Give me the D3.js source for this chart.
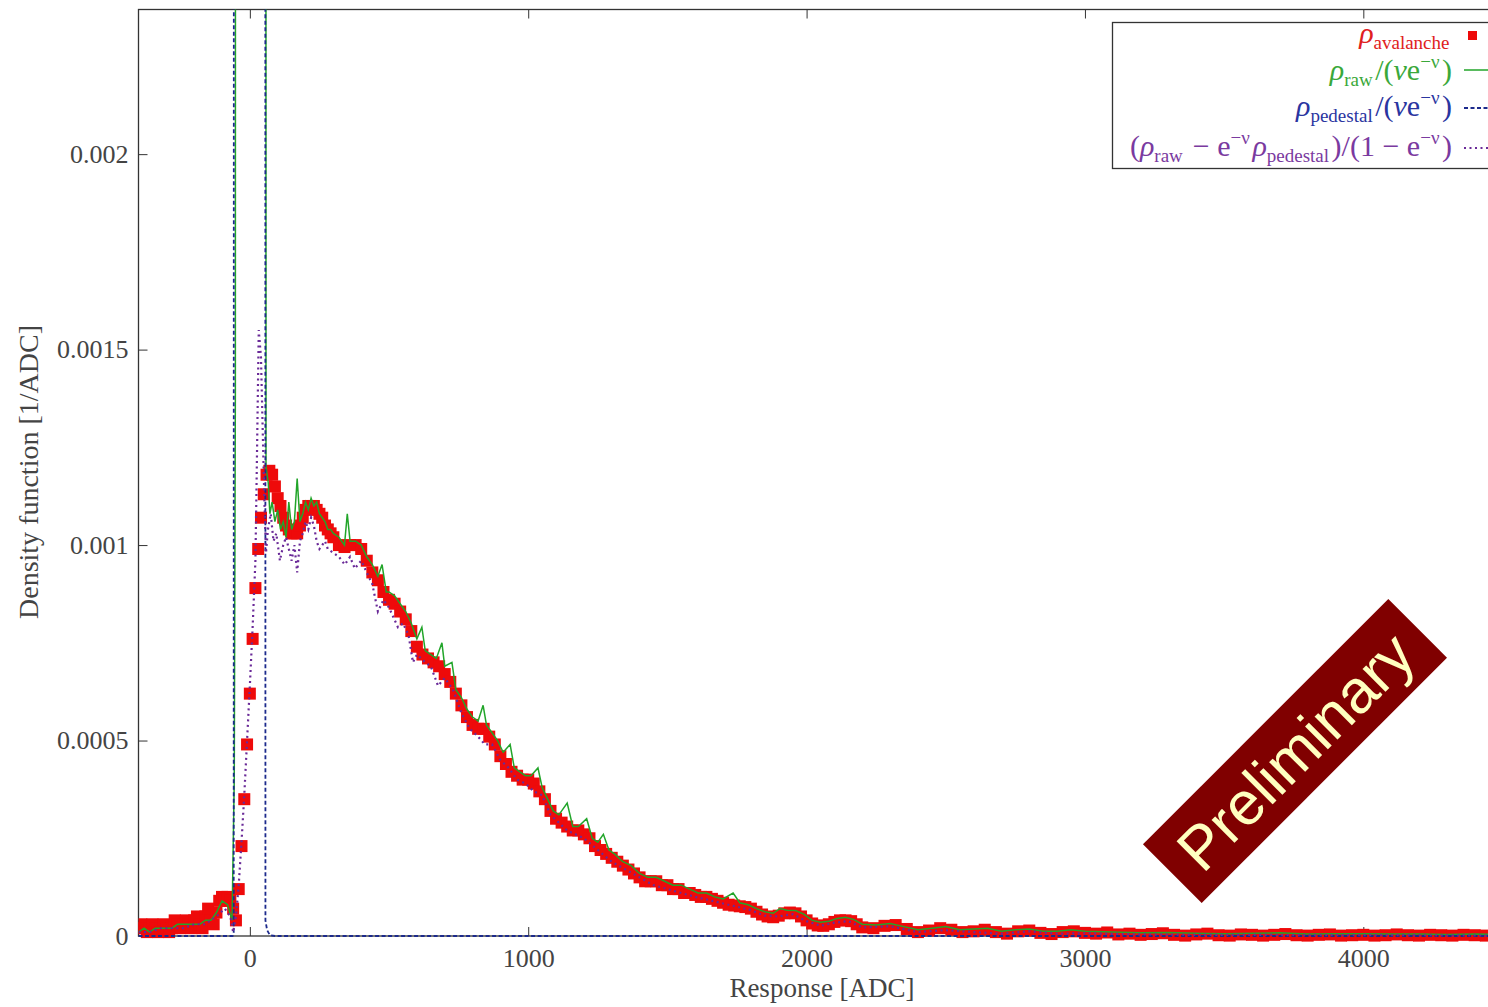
<!DOCTYPE html>
<html>
<head>
<meta charset="utf-8">
<script src="https://d3js.org/d3.v7.min.js"></script>
<style>
  body { margin: 0; background: #fff; }
  svg { display: block; }
  .tick text { font-family: "Liberation Serif", serif; font-size: 26px; fill: #444; }
  .tick line { stroke: #333; }
</style>
</head>
<body>
<div id="chart"></div>
<script>
// avalanche density (red squares), [ADC, 1/ADC]
var avalanche = [
  [-400,0.00002],[-390,0.00003],[-380,0.00002],[-370,0.00001],[-360,0.00002],[-350,0.00003],[-340,0.00002],[-330,0.00001],
  [-320,0.00002],[-310,0.00003],[-300,0.00002],[-290,0.00001],[-280,0.00002],[-270,0.00004],[-260,0.00003],[-250,0.00002],
  [-240,0.00003],[-230,0.00004],[-220,0.00003],[-210,0.00002],[-200,0.00004],[-190,0.00005],[-180,0.00003],[-170,0.00002],
  [-160,0.00005],[-150,0.00007],[-140,0.00004],[-130,0.00003],[-120,0.00006],[-110,0.00009],[-100,0.0001],[-90,0.00009],
  [-80,0.0001],[-70,0.00009],[-60,0.00007],[-50,0.00004],[-40,0.00012],[-30,0.00023],[-20,0.00035],[-10,0.00049],
  [0,0.00062],[10,0.00076],[20,0.00089],[30,0.00099],[40,0.00107],[50,0.00113],[60,0.00118],[70,0.00119],[80,0.00118],
  [90,0.00115],[100,0.00112],[110,0.0011],[120,0.00107],[130,0.00105],[140,0.00104],[150,0.00103],[160,0.00103],
  [170,0.00103],[180,0.00105],[190,0.00107],[200,0.00109],[210,0.0011],[220,0.0011],[230,0.0011],[240,0.00109],
  [250,0.00108],[260,0.00107],[270,0.00105],[280,0.00104],[290,0.00103],[300,0.00102],[320,0.001],[340,0.000995],
  [360,0.001],[380,0.001],[400,0.00099],[420,0.00096],[440,0.00093],[460,0.00091],[480,0.00088],[500,0.00086],
  [520,0.00085],[540,0.00083],[560,0.00081],[580,0.00078],[600,0.00074],[620,0.00072],[640,0.00071],[660,0.0007],
  [680,0.00069],[700,0.00067],[720,0.00065],[740,0.00062],[760,0.00059],[780,0.00056],[800,0.00054],[820,0.00053],
  [840,0.00053],[860,0.00051],[880,0.00049],[900,0.00046],[920,0.00044],[940,0.00042],[960,0.00041],[980,0.0004],
  [1000,0.0004],[1020,0.00039],[1040,0.00037],[1060,0.00035],[1080,0.00032],[1100,0.0003],[1120,0.00029],[1140,0.00028],
  [1160,0.00027],[1180,0.00027],[1200,0.00026],[1220,0.00025],[1240,0.00023],[1260,0.00022],[1280,0.00021],[1300,0.0002],
  [1320,0.00019],[1340,0.00018],[1360,0.00017],[1380,0.00016],[1400,0.00015],[1420,0.00014],[1440,0.00014],[1460,0.00014],
  [1480,0.00013],[1500,0.00013],[1520,0.00012],[1540,0.00012],[1560,0.00011],[1580,0.00011],[1600,0.000105],[1620,0.0001],
  [1640,0.0001],[1660,0.000095],[1680,0.00009],[1700,0.000085],[1720,0.00008],[1740,0.000078],[1760,0.000076],[1780,0.000074],
  [1800,0.00007],[1820,0.000062],[1840,0.000055],[1860,0.00005],[1880,0.000048],[1900,0.000052],[1920,0.000058],[1940,0.00006],
  [1960,0.000058],[1980,0.00005],[2000,0.00004],[2020,0.000032],[2040,0.000027],[2060,0.000026],[2080,0.00003],[2100,0.000036],
  [2120,0.00004],[2140,0.00004],[2160,0.000038],[2180,0.00003],[2200,0.000022],[2240,0.00002],[2280,0.000026],[2320,0.000028],
  [2360,0.000018],[2400,0.00001],[2440,0.000014],[2480,0.00002],[2520,0.000016],[2560,0.00001],[2600,0.000012],[2640,0.000016],
  [2680,0.00001],[2720,0.000006],[2760,0.000012],[2800,0.000014],[2840,0.000008],[2880,0.000005],[2920,0.00001],[2960,0.000012],
  [3000,0.000008],[3040,0.000006],[3080,0.000009],[3120,0.000004],[3160,0.000006],[3200,0.000003],[3240,0.000005],[3280,0.000007],
  [3320,0.000003],[3360,0.000001],[3400,0.000004],[3440,0.000006],[3480,0.000002],[3520,0.000001],[3560,0.000004],[3600,0.000003],
  [3640,0.000001],[3680,0.000003],[3720,0.000005],[3760,0.000002],[3800,0.000001],[3840,0.000003],[3880,0.000004],[3920,0.000001],
  [3960,0.000002],[4000,0.000003],[4040,0.000001],[4080,0.000002],[4120,0.000004],[4160,0.000002],[4200,0.000001],[4240,0.000003],
  [4280,0.000002],[4320,0.000001],[4360,0.000003],[4400,0.000002],[4440,0.000001],[4480,0.000002]
];

// raw / (nu e^-nu), green solid
var rawNorm = [
  [-400,0.00001],[-380,0.00002],[-360,0.00001],[-340,0.00002],[-320,0.00002],[-300,0.00002],[-280,0.00002],[-260,0.00003],
  [-240,0.00003],[-220,0.00003],[-200,0.00003],[-180,0.00003],[-160,0.00004],[-140,0.00004],[-120,0.00006],[-100,0.00009],
  [-80,0.00008],[-64,0.00004],[-56,0.0004],[-52,0.0014],[-48,0.02],[56,0.02],[58,0.0012],[66,0.00116],[72,0.00108],
  [80,0.00111],[90,0.00106],[100,0.00109],[110,0.00104],[120,0.00106],[130,0.00102],[140,0.00111],[150,0.00104],
  [160,0.00106],[170,0.00117],[180,0.00106],[190,0.00108],[200,0.00111],[210,0.00109],[220,0.00112],[230,0.0011],
  [240,0.00111],[250,0.00108],[260,0.00107],[270,0.00106],[280,0.00104],[290,0.00104],[300,0.00103],[320,0.00102],
  [340,0.001],[350,0.00108],[360,0.00101],[380,0.00101],[400,0.001],[420,0.00097],[440,0.00095],[460,0.00092],
  [475,0.00095],[490,0.00088],[500,0.00088],[520,0.00087],[540,0.00085],[560,0.00083],[580,0.0008],[600,0.00076],
  [618,0.00079],[630,0.00073],[650,0.00072],[670,0.00071],[690,0.00075],[700,0.00069],[726,0.0007],[740,0.00063],
  [760,0.00061],[780,0.00058],[800,0.00056],[820,0.00055],[838,0.00059],[850,0.00054],[870,0.00052],[890,0.0005],
  [910,0.00047],[935,0.00049],[950,0.00043],[970,0.00042],[990,0.00041],[1010,0.00041],[1035,0.00043],[1050,0.00038],
  [1070,0.00035],[1090,0.00032],[1110,0.00031],[1140,0.00034],[1160,0.00028],[1180,0.00028],[1210,0.0003],[1230,0.00025],
  [1250,0.00024],[1270,0.00026],[1290,0.00022],[1310,0.00021],[1340,0.00019],[1370,0.00018],[1400,0.00016],[1430,0.00015],
  [1460,0.00015],[1490,0.00014],[1520,0.00013],[1550,0.00013],[1580,0.00012],[1610,0.00011],[1640,0.00011],[1670,0.0001],
  [1700,0.000095],[1736,0.00011],[1760,0.000085],[1790,0.00008],[1820,0.00007],[1850,0.000062],[1880,0.000058],[1904,0.00007],
  [1930,0.000066],[1960,0.000065],[1990,0.000056],[2020,0.00004],[2050,0.000035],[2080,0.000038],[2110,0.000045],[2140,0.000048],
  [2170,0.000042],[2200,0.00003],[2250,0.000028],[2300,0.000032],[2350,0.000024],[2400,0.000016],[2450,0.00002],[2500,0.000024],
  [2550,0.000016],[2600,0.000018],[2650,0.00002],[2700,0.000012],[2750,0.000016],[2800,0.000018],[2850,0.000012],[2900,0.000012],
  [2950,0.000016],[3000,0.000012],[3100,0.00001],[3200,0.000008],[3300,0.000009],[3400,0.000007],[3500,0.000006],[3600,0.000007],
  [3700,0.000008],[3800,0.000005],[3900,0.000006],[4000,0.000006],[4100,0.000005],[4200,0.000005],[4300,0.000004],[4400,0.000005],
  [4500,0.000004]
];

// pedestal / (nu e^-nu), blue dashed
var pedNorm = [
  [-400,0],[-100,0],[-62,0],[-58,0.00001],[-54,0.02],[53,0.02],[56,0.00004],[62,0.000015],[72,0.000002],[90,0],[4500,0]
];

// (raw - e^-nu pedestal) / (1 - e^-nu), purple dotted
var subtracted = [
  [-400,0.00001],[-360,0.00001],[-320,0.00002],[-280,0.00002],[-240,0.00002],[-200,0.00003],[-160,0.00003],[-120,0.00005],
  [-90,0.00007],[-70,0.00005],[-60,0.00001],[-50,0.00005],[-40,0.00013],[-30,0.00024],[-20,0.00036],[-10,0.0005],
  [0,0.00064],[10,0.00079],[20,0.00096],[25,0.0012],[32,0.00155],[40,0.00148],[46,0.0013],[52,0.00112],[58,0.00098],
  [65,0.00104],[75,0.00108],[85,0.00101],[95,0.00103],[108,0.00096],[120,0.001],[130,0.00102],[140,0.00099],[150,0.00096],
  [160,0.001],[170,0.00093],[180,0.00101],[190,0.00103],[200,0.00106],[210,0.00104],[220,0.00107],[230,0.00105],
  [240,0.00101],[250,0.00099],[260,0.001],[270,0.00101],[280,0.00099],[300,0.00098],[320,0.00097],[341,0.00095],
  [360,0.00097],[377,0.00094],[400,0.00096],[420,0.00093],[440,0.0009],[460,0.00083],[480,0.00086],[500,0.00084],
  [532,0.00079],[550,0.0008],[570,0.00077],[586,0.0007],[600,0.00072],[630,0.0007],[650,0.00069],[676,0.00064],
  [700,0.00066],[730,0.00063],[760,0.00057],[790,0.00053],[820,0.00051],[844,0.00049],[870,0.00049],[900,0.00045],
  [930,0.00043],[960,0.0004],[990,0.00039],[1020,0.00037],[1050,0.00036],[1080,0.00031],[1110,0.00029],[1140,0.00027],
  [1170,0.00026],[1200,0.00025],[1250,0.00022],[1300,0.00019],[1350,0.00017],[1400,0.00015],[1450,0.00013],[1500,0.00012],
  [1550,0.00011],[1600,0.0001],[1650,0.000092],[1700,0.000083],[1750,0.000075],[1800,0.000066],[1850,0.000052],[1900,0.00005],
  [1950,0.000056],[2000,0.000038],[2050,0.000026],[2100,0.000034],[2150,0.000038],[2200,0.000022],[2300,0.000025],[2400,0.00001],
  [2500,0.000015],[2600,0.00001],[2700,0.000006],[2800,0.000012],[2900,0.000006],[3000,0.000007],[3200,0.000004],[3400,0.000003],
  [3600,0.000003],[3800,0.000002],[4000,0.000002],[4200,0.000002],[4500,0.000001]
];

var xTicks = [0, 1000, 2000, 3000, 4000];
var yTicks = [0, 0.0005, 0.001, 0.0015, 0.002];

var width = 1488, height = 1007;
var pLeft = 138.5, pRight = 1502.5, pTop = 9.5, pBottom = 936;
var markSize = 12;

var svg = d3.select("#chart").append("svg")
    .attr("width", width)
    .attr("height", height);

var x = d3.scaleLinear().domain([-400, 4500]).range([pLeft, pRight]);
var y = d3.scaleLinear().domain([0, 0.00237]).range([pBottom, pTop]);

svg.append("clipPath").attr("id", "plotclip")
  .append("rect")
    .attr("x", pLeft).attr("y", pTop)
    .attr("width", pRight - pLeft).attr("height", pBottom - pTop + 6);

// axes, ticks point inward like gnuplot
svg.append("g")
    .attr("transform", "translate(0," + pBottom + ")")
    .call(d3.axisBottom(x).tickValues(xTicks).tickSizeInner(-9).tickSizeOuter(0).tickPadding(13).tickFormat(d3.format("d")))
    .call(function(g){ g.select(".domain").remove(); });
svg.append("g")
    .attr("transform", "translate(0," + pTop + ")")
    .call(d3.axisTop(x).tickValues(xTicks).tickSizeInner(-9).tickSizeOuter(0).tickFormat(""))
    .call(function(g){ g.select(".domain").remove(); });
svg.append("g")
    .attr("transform", "translate(" + pLeft + ",0)")
    .call(d3.axisLeft(y).tickValues(yTicks).tickSizeInner(-9).tickSizeOuter(0).tickPadding(10).tickFormat(function(d){ return String(d); }))
    .call(function(g){ g.select(".domain").remove(); });
svg.append("g")
    .attr("transform", "translate(" + pRight + ",0)")
    .call(d3.axisRight(y).tickValues(yTicks).tickSizeInner(-9).tickSizeOuter(0).tickFormat(""))
    .call(function(g){ g.select(".domain").remove(); });

// frame
svg.append("rect")
    .attr("x", pLeft).attr("y", pTop)
    .attr("width", pRight - pLeft).attr("height", pBottom - pTop)
    .style("fill", "none").style("stroke", "#333").style("stroke-width", 1.3);

var plot = svg.append("g").attr("clip-path", "url(#plotclip)");

plot.selectAll("rect.aval")
    .data(avalanche)
  .enter().append("rect")
    .attr("class", "aval")
    .attr("x", function(d){ return x(d[0]) - markSize / 2; })
    .attr("y", function(d){ return y(d[1]) - markSize / 2; })
    .attr("width", markSize)
    .attr("height", markSize)
    .style("fill", "#ee0a0a");

var line = d3.line()
    .x(function(d){ return x(d[0]); })
    .y(function(d){ return y(d[1]); });

plot.append("path").datum(rawNorm)
    .attr("d", line)
    .style("fill", "none").style("stroke", "#22a52a").style("stroke-width", 1.5);
plot.append("path").datum(pedNorm)
    .attr("d", line)
    .style("fill", "none").style("stroke", "#1c2a8c").style("stroke-width", 1.8)
    .style("stroke-dasharray", "4,2.5");
plot.append("path").datum(subtracted)
    .attr("d", line)
    .style("fill", "none").style("stroke", "#6a2a98").style("stroke-width", 2.2)
    .style("stroke-dasharray", "2,3.5");

// axis titles
svg.append("text")
    .attr("x", 822).attr("y", 997)
    .attr("text-anchor", "middle")
    .style("font-family", "Liberation Serif, serif").style("font-size", "27px").style("fill", "#444")
    .text("Response [ADC]");
svg.append("text")
    .attr("transform", "translate(38,472) rotate(-90)")
    .attr("text-anchor", "middle")
    .style("font-family", "Liberation Serif, serif").style("font-size", "28px").style("fill", "#444")
    .text("Density function [1/ADC]");

// legend
var lg = svg.append("g")
    .style("font-family", "Liberation Serif, serif");
lg.append("rect")
    .attr("x", 1112.5).attr("y", 22.5).attr("width", 420).attr("height", 146)
    .style("fill", "#fff").style("stroke", "#333").style("stroke-width", 1.3);

var textX = 1452, sampleX0 = 1464, sampleX1 = 1500;

function rho(t, sub) {
  t.append("tspan").style("font-style", "italic").text("ρ");
  t.append("tspan").attr("dy", 6).style("font-size", "19px").text(sub);
  t.append("tspan").attr("dy", -6).text("\u200a");
}
function sup(t, s) {
  t.append("tspan").attr("dy", -12).style("font-size", "19px").text(s);
  t.append("tspan").attr("dy", 12).text("\u200a");
}

var t1 = lg.append("text").attr("x", textX).attr("y", 43).attr("text-anchor", "end")
    .style("font-size", "30px").style("fill", "#e02020");
rho(t1, "avalanche");
lg.append("rect").attr("x", 1468).attr("y", 31).attr("width", 9).attr("height", 9).style("fill", "#ee0a0a");

var t2 = lg.append("text").attr("x", textX).attr("y", 80).attr("text-anchor", "end")
    .style("font-size", "30px").style("fill", "#3aa83a");
rho(t2, "raw");
t2.append("tspan").text("/(");
t2.append("tspan").style("font-style", "italic").text("ν");
t2.append("tspan").text("e");
sup(t2, "−ν");
t2.append("tspan").text(")");
lg.append("line").attr("x1", sampleX0).attr("x2", sampleX1).attr("y1", 70).attr("y2", 70)
    .style("stroke", "#22a52a").style("stroke-width", 1.5);

var t3 = lg.append("text").attr("x", textX).attr("y", 116).attr("text-anchor", "end")
    .style("font-size", "30px").style("fill", "#2a35a0");
rho(t3, "pedestal");
t3.append("tspan").text("/(");
t3.append("tspan").style("font-style", "italic").text("ν");
t3.append("tspan").text("e");
sup(t3, "−ν");
t3.append("tspan").text(")");
lg.append("line").attr("x1", sampleX0).attr("x2", sampleX1).attr("y1", 108).attr("y2", 108)
    .style("stroke", "#1c2a8c").style("stroke-width", 1.8).style("stroke-dasharray", "4,2.5");

var t4 = lg.append("text").attr("x", textX).attr("y", 156).attr("text-anchor", "end")
    .style("font-size", "30px").style("fill", "#7a3aa0");
t4.append("tspan").text("(");
rho(t4, "raw");
t4.append("tspan").text(" − e");
sup(t4, "−ν");
rho(t4, "pedestal");
t4.append("tspan").text(")/(1 − e");
sup(t4, "−ν");
t4.append("tspan").text(")");
lg.append("line").attr("x1", sampleX0).attr("x2", sampleX1).attr("y1", 148).attr("y2", 148)
    .style("stroke", "#6a2a98").style("stroke-width", 2.2).style("stroke-dasharray", "2,3.5");

// "Preliminary" stamp
var stamp = svg.append("g").attr("transform", "translate(1295,751) rotate(-45)");
stamp.append("rect")
    .attr("x", -173.5).attr("y", -41.5).attr("width", 347).attr("height", 83)
    .style("fill", "#800000");
stamp.append("text")
    .attr("x", 0).attr("y", 22)
    .attr("text-anchor", "middle")
    .style("font-family", "Liberation Sans, Arial, sans-serif").style("font-size", "61px").style("fill", "#ffffc0")
    .text("Preliminary");
</script>
</body>
</html>
